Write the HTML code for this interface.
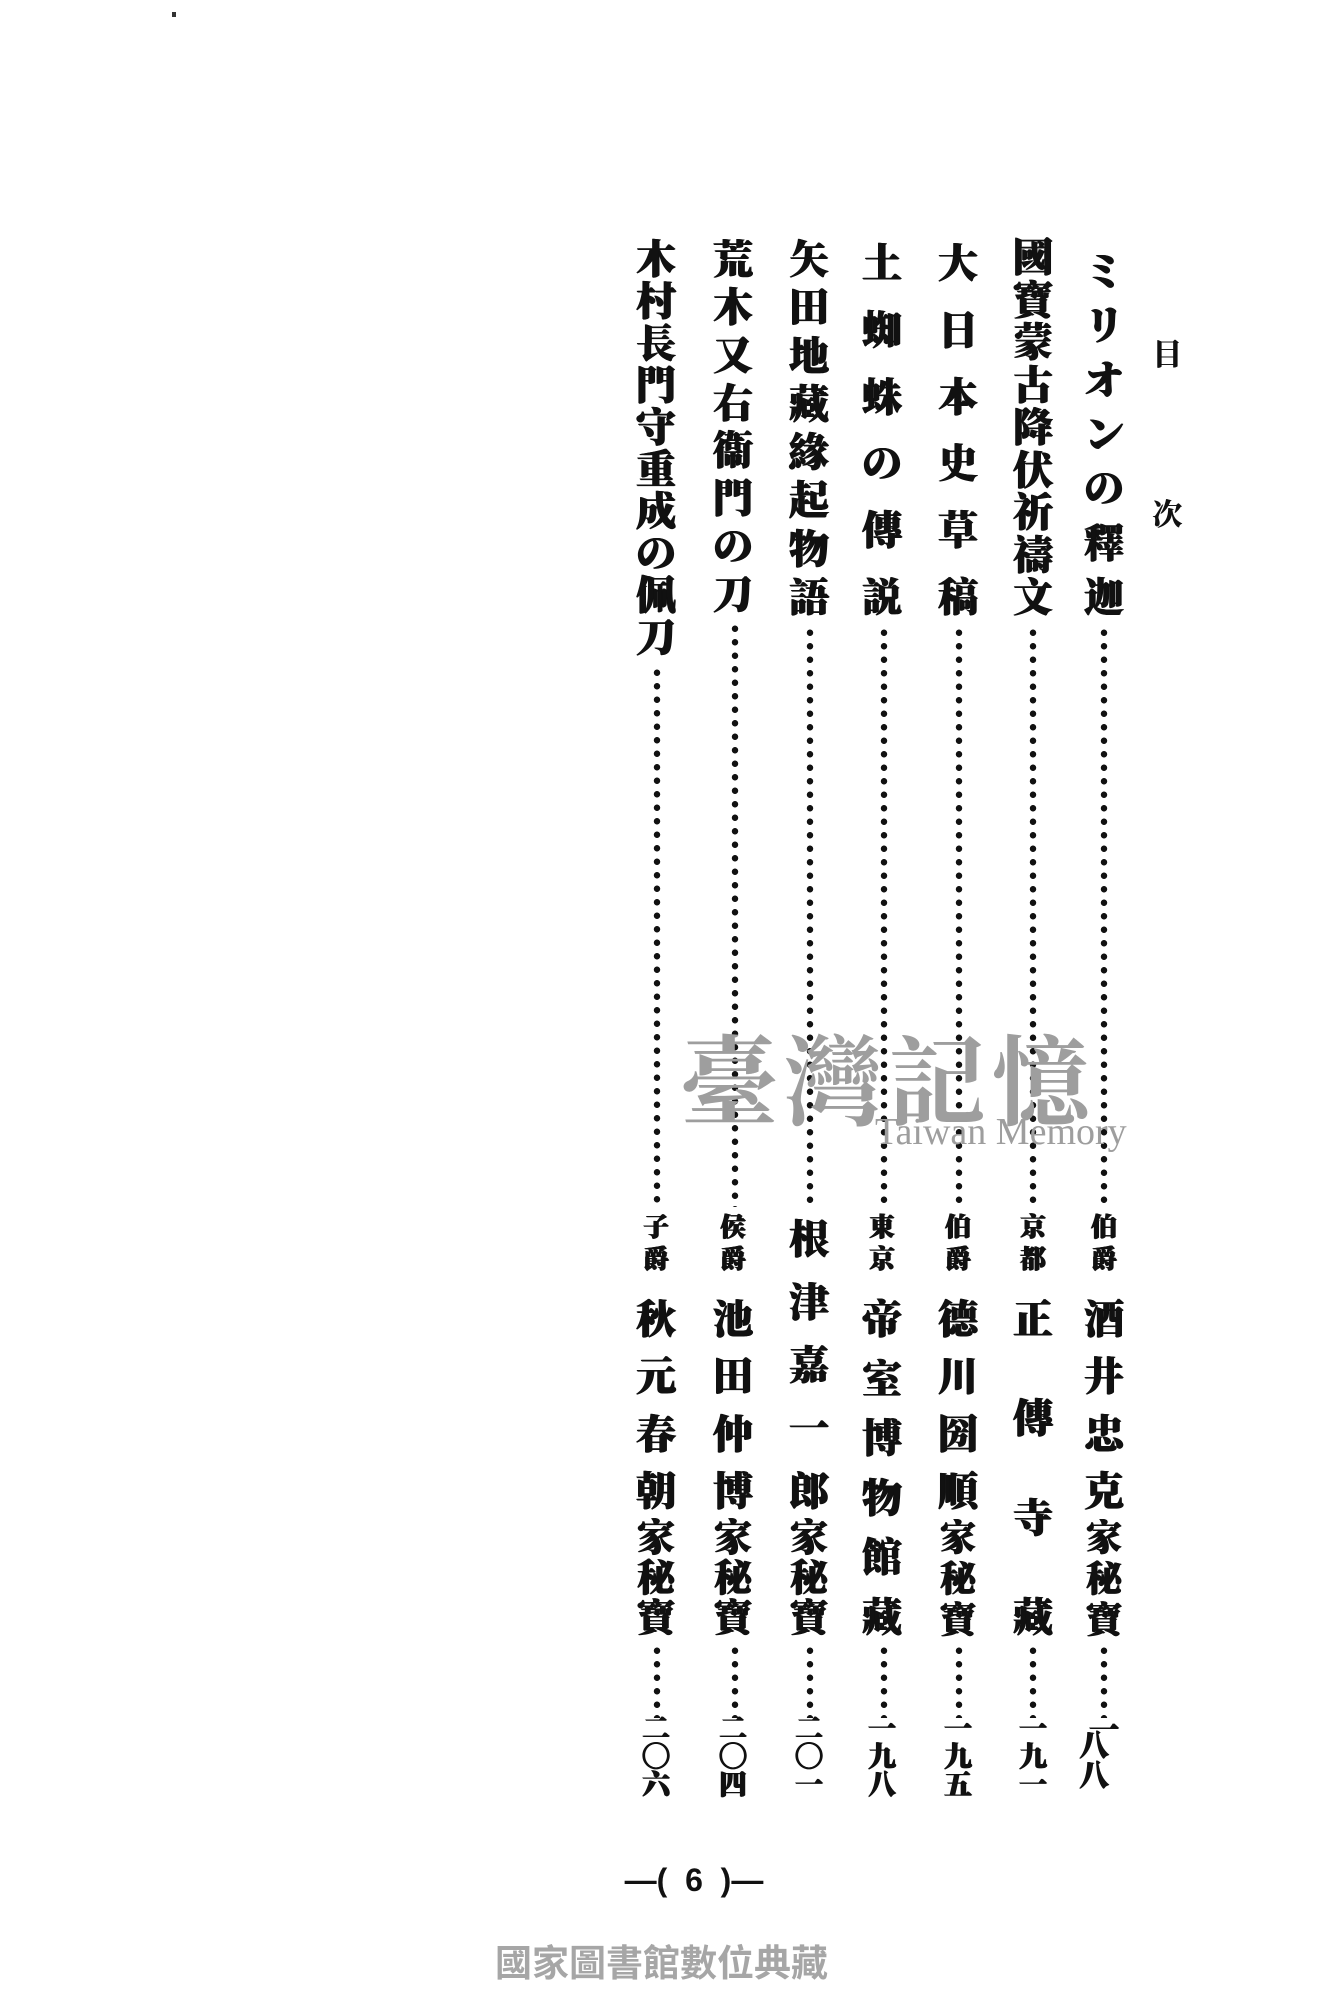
<!DOCTYPE html>
<html><head><meta charset="utf-8"><style>
html,body{margin:0;padding:0;background:#fff;}
body{width:1340px;height:2014px;position:relative;overflow:hidden;font-family:"Liberation Serif","Noto Serif CJK SC","Noto Sans CJK JP",serif;color:#111;}
.col{position:absolute;display:flex;flex-direction:column;justify-content:space-between;align-items:center;font-weight:900;text-shadow:0.8px 0 0 #111,-0.6px 0 0 #111,0 0.6px 0 #111;}
.col span{display:block;line-height:1;}
.dots{position:absolute;width:8px;background-image:radial-gradient(circle,#111 3px,transparent 3.4px);background-size:8px 13.5px;background-repeat:repeat-y;}
.abs{position:absolute;}
</style></head><body>
<div class="abs" style="left:172px;top:12px;width:4px;height:5px;background:#333"></div>

<div class="abs" style="left:1152px;top:330px;font-size:30px;font-weight:bold;text-shadow:0.6px 0 0 #111;">目</div>
<div class="abs" style="left:1152px;top:490px;font-size:30px;font-weight:bold;text-shadow:0.6px 0 0 #111;">次</div>

<!-- top titles -->
<div class="col" style="left:1079px;width:50px;top:252px;height:366px;font-size:40px"><span>ミ</span><span>リ</span><span>オ</span><span>ン</span><span>の</span><span>釋</span><span>迦</span></div>
<div class="col" style="left:1008px;width:50px;top:238px;height:380px;font-size:40px"><span>國</span><span>寶</span><span>蒙</span><span>古</span><span>降</span><span>伏</span><span>祈</span><span>禱</span><span>文</span></div>
<div class="col" style="left:933px;width:50px;top:244px;height:374px;font-size:40px"><span>大</span><span>日</span><span>本</span><span>史</span><span>草</span><span>稿</span></div>
<div class="col" style="left:857px;width:50px;top:244px;height:374px;font-size:40px"><span>土</span><span>蜘</span><span>蛛</span><span>の</span><span>傳</span><span>説</span></div>
<div class="col" style="left:784px;width:50px;top:240px;height:378px;font-size:40px"><span>矢</span><span>田</span><span>地</span><span>藏</span><span>緣</span><span>起</span><span>物</span><span>語</span></div>
<div class="col" style="left:708px;width:50px;top:240px;height:375px;font-size:40px"><span>荒</span><span>木</span><span>又</span><span>右</span><span>衞</span><span>門</span><span>の</span><span>刀</span></div>
<div class="col" style="left:631px;width:50px;top:240px;height:418px;font-size:40px"><span>木</span><span>村</span><span>長</span><span>門</span><span>守</span><span>重</span><span>成</span><span>の</span><span>佩</span><span>刀</span></div>

<!-- dots upper -->
<div class="dots" style="left:1100px;top:626px;height:581px"></div>
<div class="dots" style="left:1029px;top:626px;height:581px"></div>
<div class="dots" style="left:955px;top:626px;height:581px"></div>
<div class="dots" style="left:880px;top:626px;height:581px"></div>
<div class="dots" style="left:806px;top:626px;height:581px"></div>
<div class="dots" style="left:731px;top:622px;height:585px"></div>
<div class="dots" style="left:653px;top:666px;height:541px"></div>

<!-- watermark -->
<div class="abs" style="left:680px;top:1005px;font-size:98px;color:#9e9e9e;font-weight:bold;font-family:'Noto Serif CJK SC',serif;letter-spacing:6px;">臺灣記憶</div>
<div class="abs" style="left:875px;top:1110px;font-size:38px;color:#9e9e9e;font-family:'Liberation Serif',serif;">Taiwan Memory</div>

<!-- labels -->
<div class="col" style="left:1079px;width:50px;top:1215px;height:58px;font-size:26px"><span>伯</span><span>爵</span></div>
<div class="col" style="left:1008px;width:50px;top:1215px;height:58px;font-size:26px"><span>京</span><span>都</span></div>
<div class="col" style="left:933px;width:50px;top:1215px;height:58px;font-size:26px"><span>伯</span><span>爵</span></div>
<div class="col" style="left:857px;width:50px;top:1215px;height:58px;font-size:26px"><span>東</span><span>京</span></div>
<div class="col" style="left:708px;width:50px;top:1215px;height:58px;font-size:26px"><span>侯</span><span>爵</span></div>
<div class="col" style="left:631px;width:50px;top:1215px;height:58px;font-size:26px"><span>子</span><span>爵</span></div>

<!-- names -->
<div class="col" style="left:1079px;width:50px;top:1300px;height:212px;font-size:40px"><span>酒</span><span>井</span><span>忠</span><span>克</span></div>
<div class="col" style="left:1079px;width:50px;top:1520px;height:118px;font-size:36px"><span>家</span><span>秘</span><span>寶</span></div>

<div class="col" style="left:1008px;width:50px;top:1300px;height:338px;font-size:40px"><span>正</span><span>傳</span><span>寺</span><span>藏</span></div>

<div class="col" style="left:933px;width:50px;top:1300px;height:212px;font-size:40px"><span>德</span><span>川</span><span>圀</span><span>順</span></div>
<div class="col" style="left:933px;width:50px;top:1520px;height:118px;font-size:36px"><span>家</span><span>秘</span><span>寶</span></div>

<div class="col" style="left:857px;width:50px;top:1300px;height:338px;font-size:40px"><span>帝</span><span>室</span><span>博</span><span>物</span><span>館</span><span>藏</span></div>

<div class="col" style="left:784px;width:50px;top:1220px;height:292px;font-size:40px"><span>根</span><span>津</span><span>嘉</span><span>一</span><span>郎</span></div>
<div class="col" style="left:784px;width:50px;top:1520px;height:118px;font-size:38px"><span>家</span><span>秘</span><span>寶</span></div>

<div class="col" style="left:708px;width:50px;top:1300px;height:212px;font-size:40px"><span>池</span><span>田</span><span>仲</span><span>博</span></div>
<div class="col" style="left:708px;width:50px;top:1520px;height:118px;font-size:38px"><span>家</span><span>秘</span><span>寶</span></div>

<div class="col" style="left:631px;width:50px;top:1300px;height:212px;font-size:40px"><span>秋</span><span>元</span><span>春</span><span>朝</span></div>
<div class="col" style="left:631px;width:50px;top:1520px;height:118px;font-size:38px"><span>家</span><span>秘</span><span>寶</span></div>

<!-- dots lower -->
<div class="dots" style="left:1100px;top:1644px;height:74px"></div>
<div class="dots" style="left:1029px;top:1644px;height:74px"></div>
<div class="dots" style="left:955px;top:1644px;height:74px"></div>
<div class="dots" style="left:880px;top:1644px;height:74px"></div>
<div class="dots" style="left:806px;top:1644px;height:74px"></div>
<div class="dots" style="left:731px;top:1644px;height:74px"></div>
<div class="dots" style="left:653px;top:1644px;height:74px"></div>

<!-- numbers -->
<div class="col" style="left:1079px;width:50px;top:1716px;height:64px;font-size:30px"><span>一</span><span style="margin-top:-14px">八八</span></div>
<div class="col" style="left:1008px;width:50px;top:1716px;height:64px;font-size:28px"><span>一</span><span>九</span><span>一</span></div>
<div class="col" style="left:933px;width:50px;top:1716px;height:64px;font-size:28px"><span>一</span><span>九</span><span>五</span></div>
<div class="col" style="left:857px;width:50px;top:1716px;height:64px;font-size:28px"><span>一</span><span>九</span><span>八</span></div>
<div class="col" style="left:784px;width:50px;top:1716px;height:64px;font-size:28px"><span>二</span><span>〇</span><span>一</span></div>
<div class="col" style="left:708px;width:50px;top:1716px;height:64px;font-size:28px"><span>二</span><span>〇</span><span>四</span></div>
<div class="col" style="left:631px;width:50px;top:1716px;height:64px;font-size:28px"><span>二</span><span>〇</span><span>六</span></div>

<div class="abs" style="left:606px;top:1862px;width:176px;text-align:center;font-size:32px;font-weight:bold;font-family:'Liberation Sans',sans-serif;white-space:pre;">—(  6  )—</div>

<div class="abs" style="left:495px;top:1933px;font-size:37px;color:#a6a6a6;font-weight:bold;font-family:'Liberation Sans','Noto Sans CJK TC',sans-serif;white-space:nowrap;">國家圖書館數位典藏</div>
</body></html>
